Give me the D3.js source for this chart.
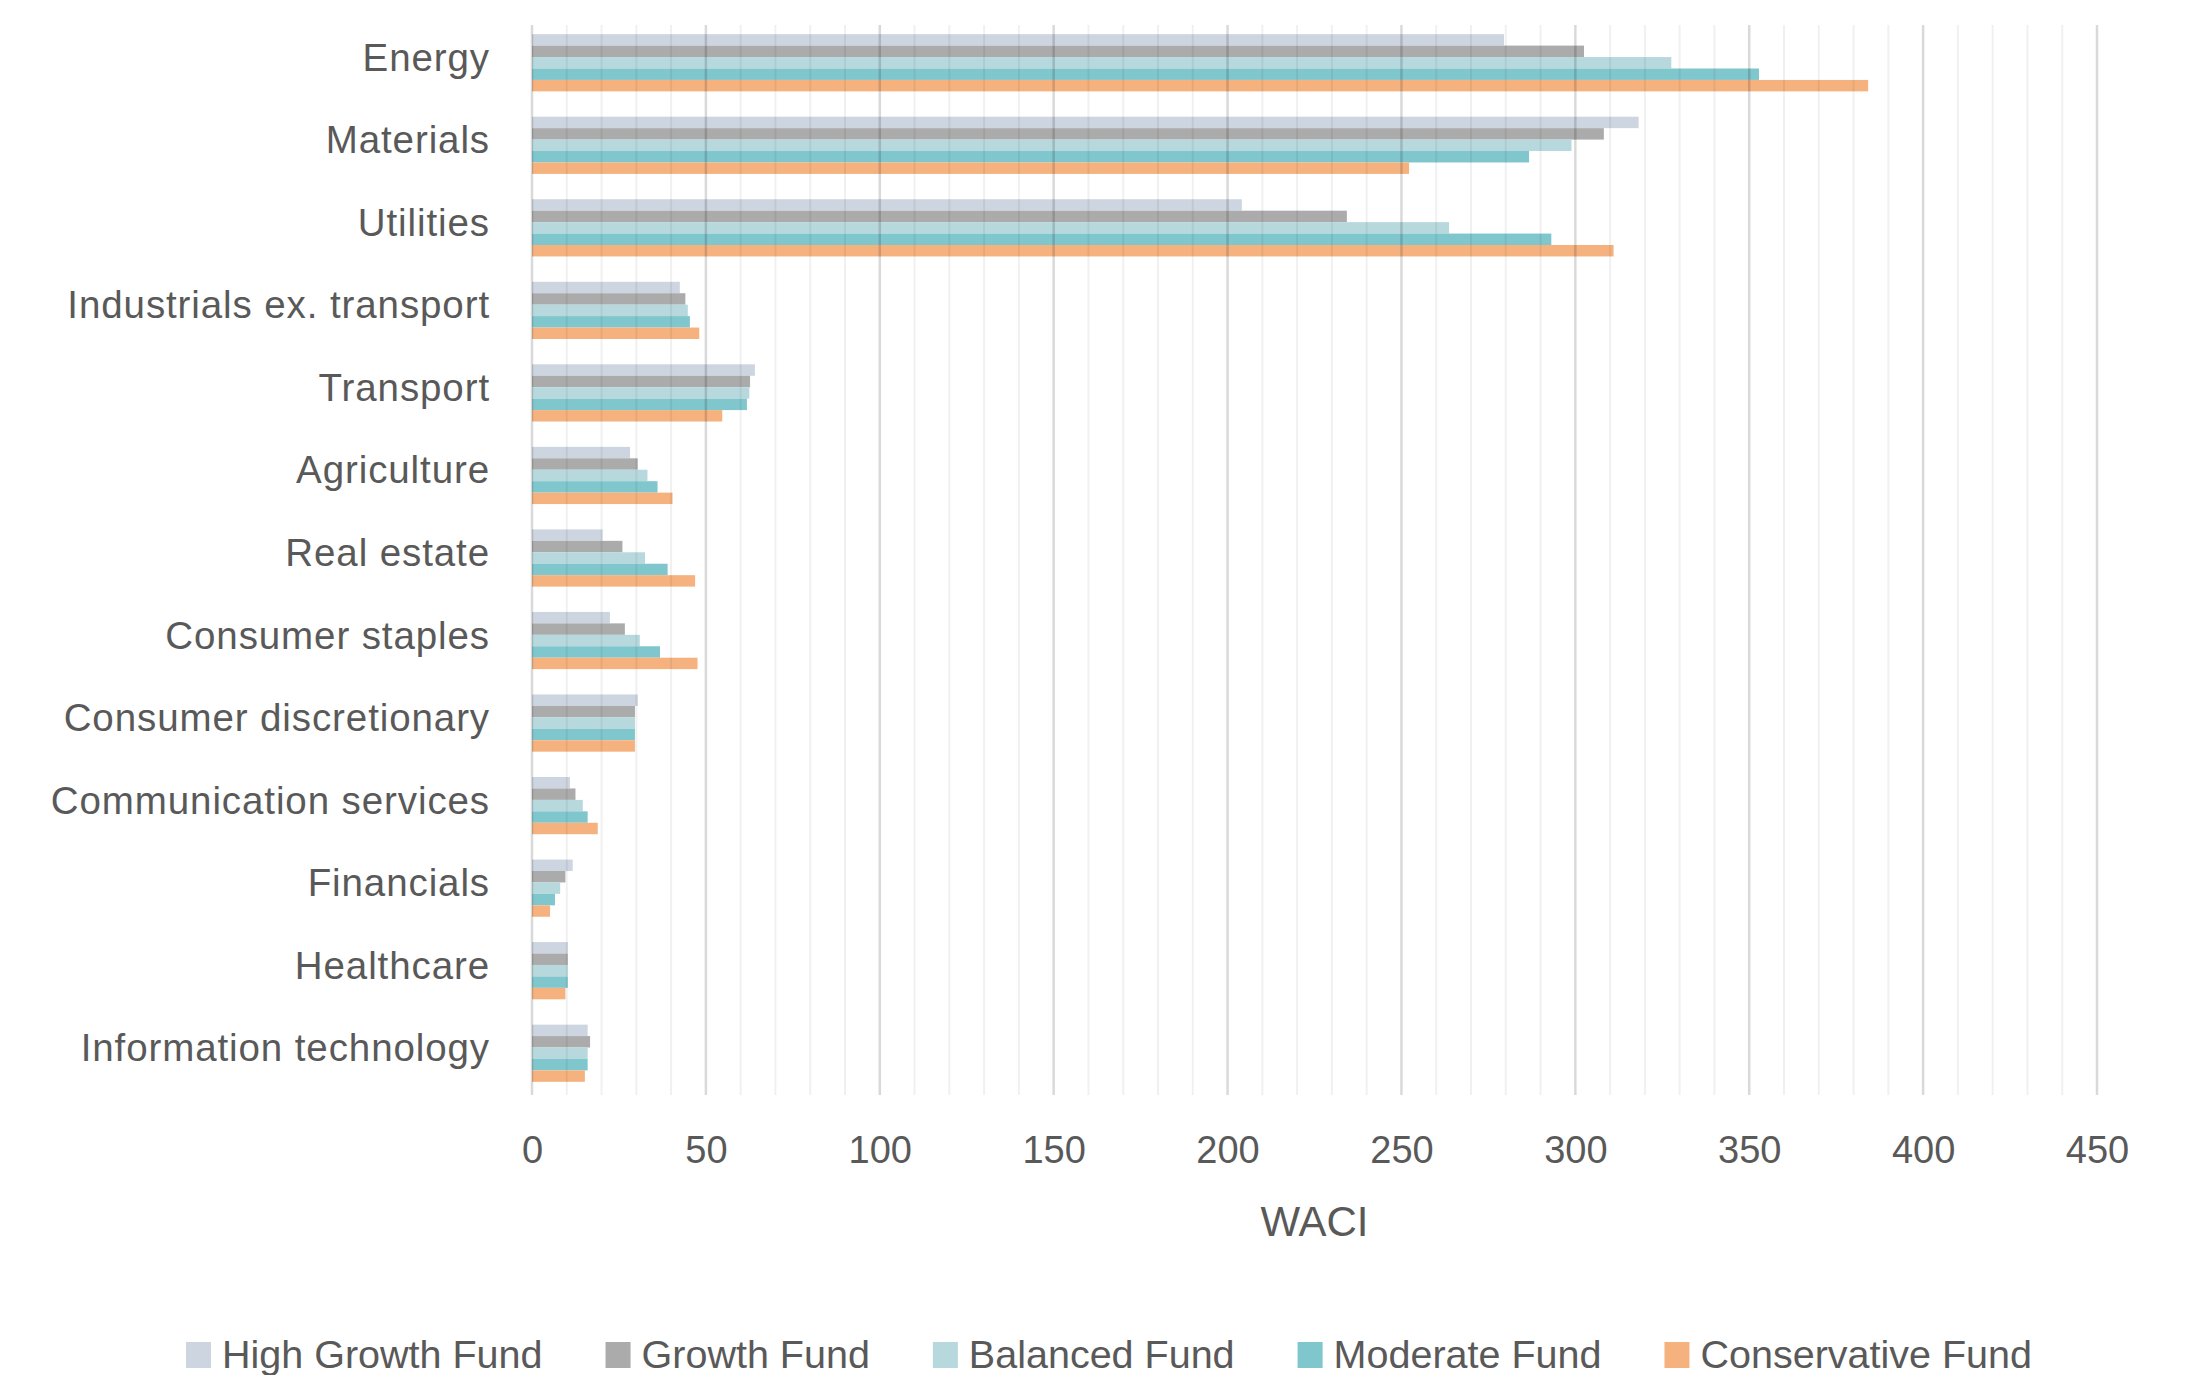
<!DOCTYPE html>
<html>
<head>
<meta charset="utf-8">
<script src="https://cdn.jsdelivr.net/npm/d3@7"></script>
<style>
  html, body { margin: 0; padding: 0; background: #ffffff; }
  svg { display: block; }
  text { font-family: "Liberation Sans", Arial, sans-serif; fill: #595959; }
</style>
</head>
<body>
<svg id="chart" width="2188" height="1375"></svg>
<script>
const categories = [
  "Energy", "Materials", "Utilities", "Industrials ex. transport", "Transport",
  "Agriculture", "Real estate", "Consumer staples", "Consumer discretionary",
  "Communication services", "Financials", "Healthcare", "Information technology"
];
const seriesNames = ["High Growth Fund", "Growth Fund", "Balanced Fund", "Moderate Fund", "Conservative Fund"];
const highGrowth   = [279.5, 318.2, 204.1, 42.5, 64.1, 28.2, 20.3, 22.4, 30.4, 10.9, 11.7, 10.3, 16.0];
const growth       = [302.5, 308.2, 234.3, 44.1, 62.7, 30.4, 26.0, 26.7, 29.6, 12.5,  9.6, 10.3, 16.7];
const balanced     = [327.6, 298.9, 263.7, 44.8, 62.5, 33.2, 32.5, 31.0, 29.6, 14.6,  8.1, 10.3, 16.0];
const moderate     = [352.8, 286.7, 293.1, 45.4, 61.8, 36.1, 39.0, 36.8, 29.6, 16.0,  6.6, 10.3, 16.0];
const conservative = [384.2, 252.2, 311.0, 48.1, 54.7, 40.4, 46.9, 47.6, 29.6, 18.9,  5.2,  9.6, 15.2];
const xTicks = [0, 50, 100, 150, 200, 250, 300, 350, 400, 450];
const xMinorTicks = d3.range(0, 451, 10);
const xTitle = "WACI";

const seriesValues = [highGrowth, growth, balanced, moderate, conservative];
const colors = ["#cdd5e0", "#ababab", "#b7d9de", "#80c6cd", "#f5b27f"];

const svg = d3.select("#chart");
const plotLeft = 532, plotRight = 2097, plotTop = 25, plotBottom = 1095;

const x = d3.scaleLinear().domain([0, 450]).range([plotLeft, plotRight]);
const y = d3.scaleBand().domain(categories).range([21.5, 1094.5])
  .paddingInner(0.307).paddingOuter(0.1535);
const ySub = d3.scaleBand().domain(seriesNames).range([0, y.bandwidth()]);

// bars
const groups = svg.append("g").selectAll("g")
  .data(categories)
  .join("g")
  .attr("transform", d => `translate(0,${y(d)})`);

groups.selectAll("rect")
  .data((c, i) => seriesNames.map((s, k) => ({ s, k, v: seriesValues[k][i] })))
  .join("rect")
  .attr("x", x(0))
  .attr("y", d => ySub(d.s))
  .attr("width", d => x(d.v) - x(0))
  .attr("height", ySub.bandwidth())
  .attr("fill", d => colors[d.k]);

// gridlines drawn over bars, translucent
const grid = svg.append("g");
grid.selectAll("line.minor")
  .data(xMinorTicks.filter(t => t % 50 !== 0))
  .join("line")
  .attr("class", "minor")
  .attr("x1", d => x(d)).attr("x2", d => x(d))
  .attr("y1", plotTop).attr("y2", plotBottom)
  .attr("stroke", "rgba(0,0,0,0.06)")
  .attr("stroke-width", 2);
grid.selectAll("line.major")
  .data(xTicks)
  .join("line")
  .attr("class", "major")
  .attr("x1", d => x(d)).attr("x2", d => x(d))
  .attr("y1", plotTop).attr("y2", plotBottom)
  .attr("stroke", "rgba(0,0,0,0.15)")
  .attr("stroke-width", 2.5);

// x axis tick labels
const xAxis = d3.axisBottom(x).tickValues(xTicks).tickSize(0).tickPadding(0);
const xg = svg.append("g").attr("transform", `translate(0,${plotBottom})`).call(xAxis);
xg.select(".domain").remove();
xg.selectAll("text")
  .attr("y", 67.5).attr("dy", 0)
  .style("font-size", "38px")
  .style("font-family", "'Liberation Sans', Arial, sans-serif")
  .attr("fill", "#595959");

// x title
svg.append("text")
  .attr("x", (plotLeft + plotRight) / 2)
  .attr("y", 1236)
  .attr("text-anchor", "middle")
  .style("font-size", "42px")
  .text(xTitle);

// category labels
const yAxis = d3.axisLeft(y).tickSize(0).tickPadding(0);
const yg = svg.append("g").attr("transform", `translate(490,0)`).call(yAxis);
yg.select(".domain").remove();
yg.selectAll("text")
  .attr("x", 0).attr("dy", 0)
  .attr("y", 8)
  .style("font-size", "38.5px")
  .style("letter-spacing", "0.9px")
  .style("font-family", "'Liberation Sans', Arial, sans-serif")
  .attr("fill", "#595959");

// legend
const legend = svg.append("g");
const items = legend.selectAll("g").data(seriesNames).join("g");
items.append("rect")
  .attr("width", 25).attr("height", 26)
  .attr("y", 1342)
  .attr("fill", (d, i) => colors[i]);
items.append("text")
  .attr("x", 36)
  .attr("y", 1368)
  .style("font-size", "39.5px")
  .text(d => d);
let widths = [];
items.each(function() { widths.push(this.getBBox().width); });
const gap = 63;
const total = d3.sum(widths) + gap * (widths.length - 1);
let cx = 1109 - total / 2;
items.attr("transform", (d, i) => {
  const t = `translate(${cx},0)`;
  cx += widths[i] + gap;
  return t;
});
</script>
</body>
</html>
